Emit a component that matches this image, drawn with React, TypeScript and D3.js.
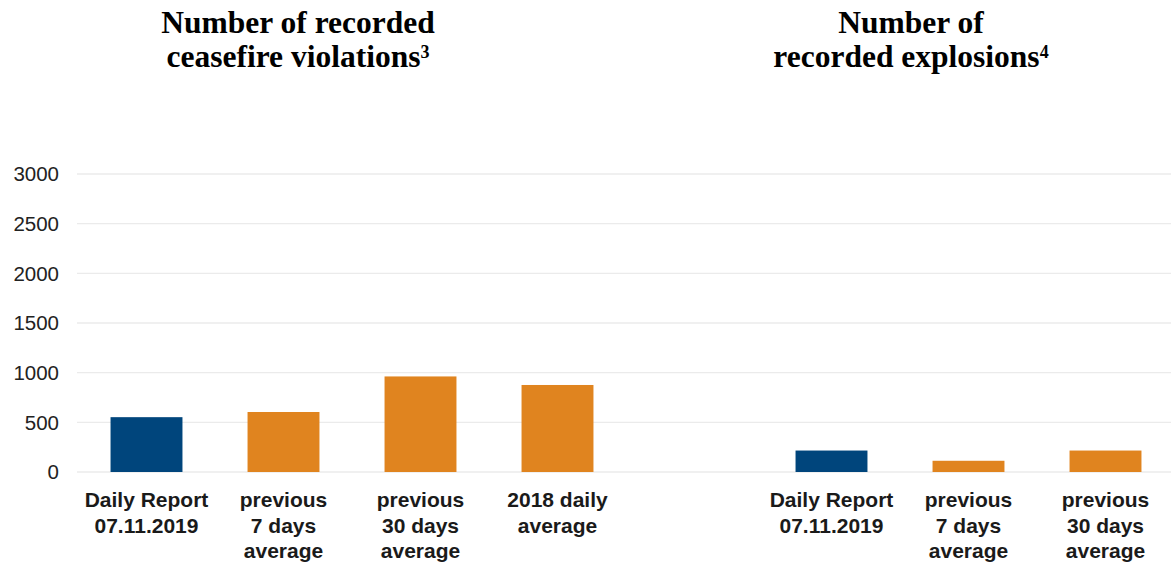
import React from "react";
import * as d3 from "d3";

const leftCategories: string[][] = [
  ["Daily Report", "07.11.2019"],
  ["previous", "7 days", "average"],
  ["previous", "30 days", "average"],
  ["2018 daily", "average"],
];
const leftValues: number[] = [552, 604, 962, 876];
const leftColors: string[] = ["#00457c", "#e0841f", "#e0841f", "#e0841f"];

const rightCategories: string[][] = [
  ["Daily Report", "07.11.2019"],
  ["previous", "7 days", "average"],
  ["previous", "30 days", "average"],
];
const rightValues: number[] = [216, 113, 216];
const rightColors: string[] = ["#00457c", "#e0841f", "#e0841f"];

const yTicks: number[] = [0, 500, 1000, 1500, 2000, 2500, 3000];

const leftTitle: string[] = ["Number of recorded", "ceasefire violations"];
const leftSup = "3";
const rightTitle: string[] = ["Number of", "recorded explosions"];
const rightSup = "4";

const W = 1171;
const H = 570;

export default function App() {
  const y = d3.scaleLinear().domain([0, 3000]).range([472, 174]);
  const keyL = leftCategories.map((c, i) => "L" + i);
  const keyR = rightCategories.map((c, i) => "R" + i);
  const xL = d3
    .scaleBand<string>()
    .domain(keyL)
    .range([78, 626])
    .paddingInner(0.475)
    .paddingOuter(0.2375);
  const xR = d3
    .scaleBand<string>()
    .domain(keyR)
    .range([763, 1174])
    .paddingInner(0.475)
    .paddingOuter(0.2375);

  const sans = "'Liberation Sans', Arial, sans-serif";
  const serif = "'Liberation Serif', 'Times New Roman', serif";
  const textColor = "#1a1a1a";

  const renderGroup = (
    keys: string[],
    cats: string[][],
    vals: number[],
    cols: string[],
    x: d3.ScaleBand<string>
  ) =>
    keys.map((k, i) => {
      const cx = (x(k) as number) + x.bandwidth() / 2;
      return (
        <g key={k}>
          <rect
            x={x(k)}
            y={y(vals[i])}
            width={x.bandwidth()}
            height={y(0) - y(vals[i])}
            fill={cols[i]}
          />
          <text
            x={cx}
            textAnchor="middle"
            fontFamily={sans}
            fontWeight="bold"
            fontSize={21}
            fill={textColor}
          >
            {cats[i].map((line, j) => (
              <tspan key={j} x={cx} y={507 + j * 25.5}>
                {line}
              </tspan>
            ))}
          </text>
        </g>
      );
    });

  const renderTitle = (lines: string[], sup: string, cx: number) => (
    <g>
      <text
        x={cx}
        y={33}
        textAnchor="middle"
        fontFamily={serif}
        fontWeight="bold"
        fontSize={31.5}
        fill="#000"
      >
        {lines[0]}
      </text>
      <text
        x={cx}
        y={67}
        textAnchor="middle"
        fontFamily={serif}
        fontWeight="bold"
        fontSize={31.5}
        fill="#000"
      >
        {lines[1]}
        <tspan fontSize={18} dy={-9}>
          {sup}
        </tspan>
      </text>
    </g>
  );

  return (
    <svg
      width={W}
      height={H}
      style={{ position: "absolute", left: 0, top: 0, background: "#fff" }}
    >
      <rect x={0} y={0} width={W} height={H} fill="#fff" />
      {yTicks.map((t) => (
        <g key={t}>
          <line
            x1={77}
            x2={W}
            y1={y(t)}
            y2={y(t)}
            stroke="#ebebeb"
            strokeWidth={1.3}
          />
          <text
            x={59}
            y={y(t)}
            dy="0.36em"
            textAnchor="end"
            fontFamily={sans}
            fontSize={20.5}
            fill="#222"
          >
            {t}
          </text>
        </g>
      ))}
      {renderGroup(keyL, leftCategories, leftValues, leftColors, xL)}
      {renderGroup(keyR, rightCategories, rightValues, rightColors, xR)}
      {renderTitle(leftTitle, leftSup, 298)}
      {renderTitle(rightTitle, rightSup, 911)}
    </svg>
  );
}
